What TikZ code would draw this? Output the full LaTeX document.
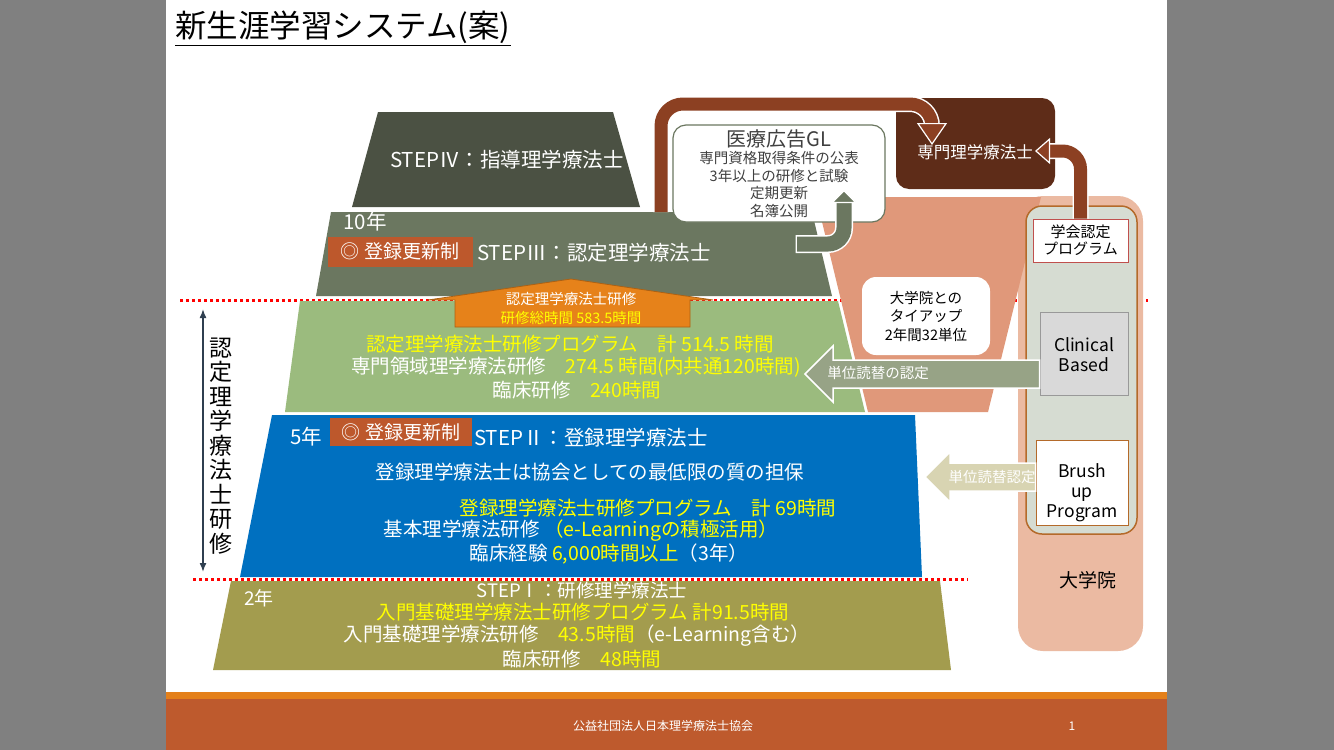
\documentclass[tikz,border=0pt]{standalone}
\usepackage{fontspec}
\setmainfont{Noto Sans CJK JP}
\usepackage{xcolor}
\usetikzlibrary{arrows.meta,positioning,calc}
\definecolor{slidegray}{HTML}{808080}
\definecolor{stepfour}{HTML}{4B5143}
\definecolor{stepthree}{HTML}{6B7760}
\definecolor{ninteigreen}{HTML}{9BBB7E}
\definecolor{stepblue}{HTML}{0070C0}
\definecolor{stepolive}{HTML}{A39C4E}
\definecolor{funnelsalmon}{HTML}{E0987A}
\definecolor{gradsalmon}{HTML}{EBBAA2}
\definecolor{innergray}{HTML}{D6DCD2}
\definecolor{innerbrown}{HTML}{B46A2A}
\definecolor{senmonbrown}{HTML}{5E2C18}
\definecolor{arrowbrown}{HTML}{8C4022}
\definecolor{reneworange}{HTML}{BD582C}
\definecolor{ninteiorange}{HTML}{E6821A}
\definecolor{tannigray}{HTML}{97A386}
\definecolor{tannibeige}{HTML}{D8D4B2}
\definecolor{hilite}{HTML}{FFFF00}
\definecolor{footorange}{HTML}{E4801A}
\definecolor{footbrown}{HTML}{BE5A2D}
\definecolor{progred}{HTML}{C0504D}
\definecolor{clingray}{HTML}{D9D9D9}
\definecolor{navyline}{HTML}{2F3F50}
\definecolor{darktext}{HTML}{404040}
\newcommand{\yel}[1]{\textcolor{hilite}{#1}}
\tikzset{
  steptext/.style={text=white,inner sep=0pt,font=\fontsize{19.5}{23}\selectfont},
  steplabel/.style={text=white,inner sep=0pt,font=\fontsize{20.5}{24}\selectfont},
  smalltext/.style={inner sep=0pt,align=center,font=\fontsize{14.5}{17.7}\selectfont},
  renewbox/.style={fill=reneworange,text=white,inner sep=0pt,
    minimum width=145pt,minimum height=30pt,font=\fontsize{19}{23}\selectfont},
  progbox/.style={fill=white,line width=1pt,inner sep=0pt,align=center},
  blockarrow/.style={draw=white,line width=1.5pt},
  reddot/.style={draw=red,line width=3pt,dash pattern=on 3pt off 3pt},
  underlay/.style={draw=white,line width=16pt},
}

\begin{document}
\begin{tikzpicture}[x=1pt,y=-1pt]
\useasboundingbox (0,0) rectangle (1334,750);
\fill[slidegray] (0,0) rectangle (1334,750);
\fill[white] (166,0) rectangle (1167,750);

% footer
\fill[footorange] (166,692) rectangle (1167,699);
\fill[footbrown] (166,699) rectangle (1167,750);
\node[text=white,inner sep=0pt,font=\fontsize{12}{14}\selectfont] (jpta) at (663,726) {公益社団法人日本理学療法士協会};
\node[text=white,inner sep=0pt,font=\fontsize{12}{14}\selectfont] (pageno) at (1072,726) {1};

% title
\node[anchor=west,inner sep=0pt,font=\fontsize{31.5}{34}\selectfont] (title) at (175,28) {\underline{新生涯学習システム(案)}};

% dotted borders
\draw[reddot] (180,300) -- (1148,300);
\draw[reddot] (193,579) -- (968,579);

% graduate school
\fill[gradsalmon,rounded corners=25pt] (1018,196) rectangle (1143,651);
\fill[funnelsalmon] (816,197) -- (1041,197) -- (988,412) -- (868,412) -- cycle;
\draw[fill=innergray,draw=innerbrown,line width=1.5pt,rounded corners=16pt] (1026,206) rectangle (1137,534);
\node[progbox,draw=progred,minimum width=95pt,minimum height=43pt,
  font=\fontsize{15}{17}\selectfont] (gakkai) at (1080.5,240.5) {学会認定\\プログラム};
\node[progbox,fill=clingray,draw=gray!80,minimum width=88pt,minimum height=83pt] (clinical) at (1084,353.5) {};
\node[inner sep=0pt,align=center,font=\fontsize{17.5}{20}\selectfont] (clintext) at (1084,355) {Clinical\\Based};
\node[progbox,draw=innerbrown,minimum width=92pt,minimum height=85pt] (brush) at (1082,482.5) {};
\node[inner sep=0pt,align=center,font=\fontsize{17.5}{20}\selectfont] (brushtext) at (1082,493) {Brush\\up\\Program};
\node[inner sep=0pt,font=\fontsize{19}{22}\selectfont] (daigakuin) at (1088,580) {大学院};

% pyramid
\fill[stepfour] (378,112) -- (613,112) -- (640,207) -- (352,207) -- cycle;
\fill[stepthree] (331,212) -- (812,212) -- (832,296) -- (316,296) -- cycle;
\fill[ninteigreen] (300,301) -- (838,301) -- (865,412) -- (285,412) -- cycle;
\fill[stepblue] (272,415) -- (915,415) -- (922,577) -- (240,577) -- cycle;
\fill[stepolive] (231,581) -- (940,581) -- (951,670) -- (213,670) -- cycle;

% specialist box and GL box
\fill[senmonbrown,rounded corners=13pt] (896,98) rectangle (1055,189);
\node[text=white,inner sep=0pt,font=\fontsize{16.5}{20}\selectfont] (senmon) at (975,152) {専門理学療法士};
\draw[fill=white,draw=stepthree,line width=1.2pt,rounded corners=13pt] (673,125) rectangle (885,222);
\node[inner sep=0pt,text=darktext,font=\fontsize{20}{24}\selectfont] (gltitle) at (779,139) {医療広告GL};
\node[smalltext,text=darktext] (gllines) at (779,184.5) {専門資格取得条件の公表\\3年以上の研修と試験\\定期更新\\名簿公開};

% curved arrows
\coordinate (s3top) at (661,212);
\coordinate (senmonin) at (932,145);
\coordinate (senmonright) at (1035,151);
\coordinate (s3out) at (797,244);
\coordinate (glin) at (844,190);
\draw[underlay,rounded corners=22pt,shorten >=21pt] (s3top) |- (senmonin |- 0,104) -- (senmonin);
\draw[arrowbrown,line width=13pt,rounded corners=22pt,
  -{Triangle[length=22pt,width=30pt,fill=arrowbrown,color=white,line width=1.2pt 0]}]
  (s3top) |- (senmonin |- 0,104) -- (senmonin);
\draw[underlay,rounded corners=18pt,shorten >=15pt] (gakkai.north) |- (senmonright);
\draw[arrowbrown,line width=13pt,rounded corners=18pt,
  -{Triangle[length=15pt,width=26pt,fill=arrowbrown,color=white,line width=1.2pt 0]}]
  (gakkai.north) |- (senmonright);
\draw[underlay,line width=18pt,rounded corners=16pt,shorten >=13pt] ($(s3out)+(-1.5,0)$) -| (glin);
\draw[stepthree,line width=15pt,rounded corners=16pt,
  -{Triangle[length=13pt,width=26pt,fill=stepthree,color=white,line width=1.2pt 0]}]
  (s3out) -| (glin);

% block arrows
\draw[blockarrow,fill=tannigray] (805,374) -- (833,346) -- (833,360) -- (clinical.west |- 0,360)
  -- (clinical.west |- 0,388) -- (833,388) -- (833,402) -- cycle;
\node[inner sep=0pt,text=white,font=\fontsize{14.5}{17}\selectfont] (tanni1) at (878,373) {単位読替の認定};
\draw[blockarrow,fill=tannibeige] (925,477) -- (950,452) -- (950,463) -- (brush.west |- 0,463)
  -- (brush.west |- 0,491) -- (950,491) -- (950,502) -- cycle;
\node[inner sep=0pt,text=white,font=\fontsize{14.5}{17}\selectfont] (tanni2) at (992,477) {単位読替認定};
\draw[fill=ninteiorange,draw=ninteiorange!75!black,line width=0.8pt] (571,279) -- (713,300) -- (690,300)
  -- (690,327) -- (455,327) -- (455,300) -- (428,300) -- cycle;
\node[inner sep=0pt,text=white,font=\fontsize{14.5}{17}\selectfont] (ninteiA) at (571,299) {認定理学療法士研修};
\node[inner sep=0pt,text=hilite,font=\fontsize{14.5}{17}\selectfont] (ninteiB) at (571,318) {研修総時間 583.5時間};

% tie-up
\node[fill=white,rounded corners=14pt,minimum width=128pt,minimum height=78pt,align=center,
  inner sep=0pt,font=\fontsize{14.5}{18.5}\selectfont] (tieup) at (926,316) {大学院との\\タイアップ\\2年間32単位};

% left label
\coordinate (vtop) at (203,309);
\coordinate (vbot) at (203,572);
\draw[navyline,line width=1.5pt,{Latex[length=9pt,width=7pt]}-{Latex[length=9pt,width=7pt]}] (vtop) -- (vbot);
\node[inner sep=0pt,align=center,font=\fontsize{23}{24.5}\selectfont] (vlabel) at (221,446)
  {認\\定\\理\\学\\療\\法\\士\\研\\修};

% STEP IV
\node[steplabel] (step4) at (507,160) {STEPⅣ：指導理学療法士};

% STEP III
\node[steplabel] (y10) at (365,222) {10年};
\node[renewbox] (renew3) at (400,251.5) {◎ 登録更新制};
\node[steplabel] (step3) at (594,253) {STEPⅢ：認定理学療法士};
\node[steptext,text=hilite] (prog3) at (570,344) {認定理学療法士研修プログラム　計 514.5 時間};
\node[steptext] (ryoiki) at (576,367) {専門領域理学療法研修　\yel{274.5 時間(内共通120時間)}};
\node[steptext] (rinsho3) at (577,390) {臨床研修　\yel{240時間}};

% STEP II
\node[steplabel] (y5) at (306,437) {5年};
\node[renewbox,minimum width=142pt,minimum height=28pt] (renew2) at (401,432) {◎ 登録更新制};
\node[steplabel] (step2) at (591,438) {STEPⅡ：登録理学療法士};
\node[steptext] (quality) at (590,472) {登録理学療法士は協会としての最低限の質の担保};
\node[steptext,text=hilite] (prog2) at (648,508) {登録理学療法士研修プログラム　計 69時間};
\node[steptext] (kihon) at (581,531) {基本理学療法研修 \yel{（e-Learningの積極活用）}};
\node[steptext] (rinsho2) at (609,554) {臨床経験 \yel{6,000時間以上}（3年）};

% STEP I
\node[steplabel,font=\fontsize{19}{22}\selectfont] (y2) at (259,598) {2年};
\node[steplabel,font=\fontsize{18.5}{22}\selectfont] (step1) at (582,590) {STEPⅠ：研修理学療法士};
\node[steptext,text=hilite] (prog1) at (583,612) {入門基礎理学療法士研修プログラム 計91.5時間};
\node[steptext] (nyumon) at (577,636) {入門基礎理学療法研修　\yel{43.5時間}（e-Learning含む）};
\node[steptext] (rinsho1) at (582,659) {臨床研修　\yel{48時間}};
\end{tikzpicture}
\end{document}
